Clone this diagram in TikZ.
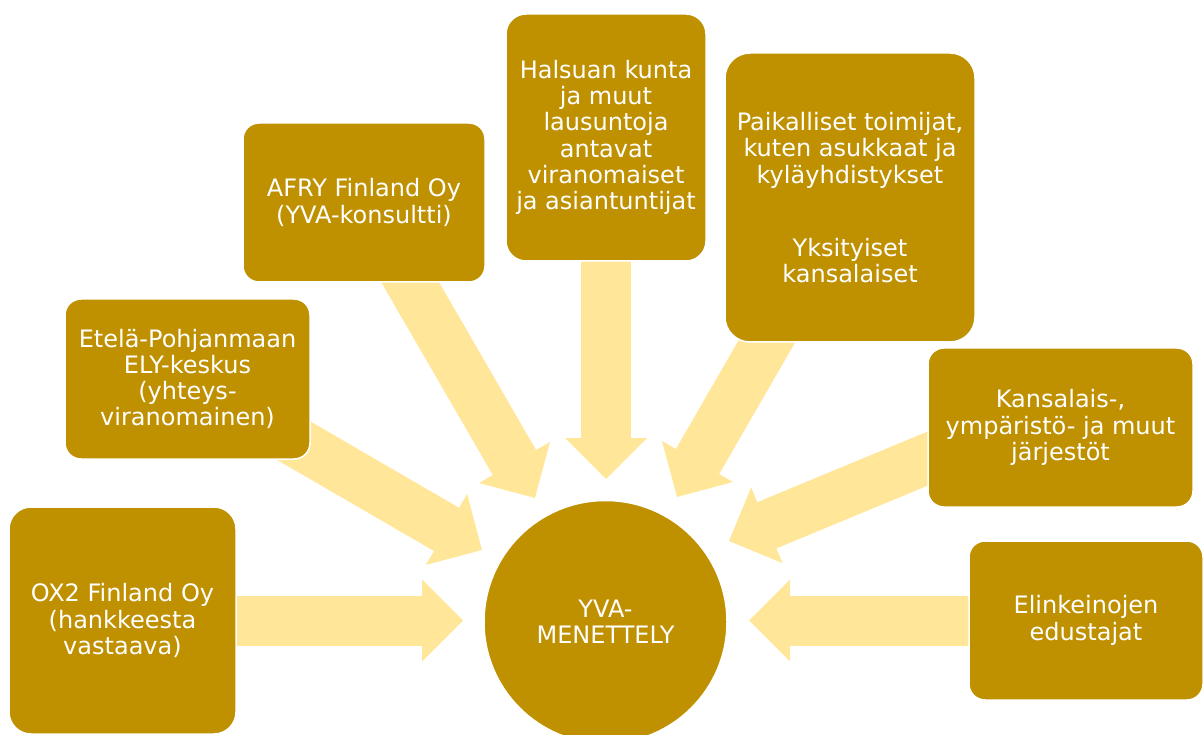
\documentclass[tikz,border=0pt]{standalone}
\usepackage{fontspec}
\setmainfont{DejaVu Sans}
\usepackage{xcolor}
\usetikzlibrary{arrows.meta, positioning, calc, backgrounds}
\definecolor{boxGold}{HTML}{BF9000}
\definecolor{flowLight}{HTML}{FFE699}

\begin{document}
\begin{tikzpicture}[x=1pt, y=-1pt,
  every node/.style={font=\fontsize{24}{26.3}\selectfont, text=white, align=center},
  sbox/.style={rectangle, fill=boxGold, draw=white, line width=1.5pt, inner sep=0pt},
  hub/.style={circle, fill=boxGold, draw=white, line width=1.5pt,
    minimum size=243pt, inner sep=0pt},
  flow/.style={draw=flowLight, line width=50pt,
    -{Triangle[length=41pt 0 0, width=82pt 0 0, line width=0pt]}}
]
\useasboundingbox (0,0) rectangle (1203,735);
\clip (0,0) rectangle (1203,735);

% boxes
\node[sbox, minimum width=227pt, minimum height=227pt, rounded corners=22pt] (ox2) at (122.5,620.5)
  {OX2 Finland Oy\\(hankkeesta\\vastaava)};
\node[sbox, minimum width=245pt, minimum height=160pt, rounded corners=16pt] (ely) at (187.5,379)
  {Etelä-Pohjanmaan\\ELY-keskus\\(yhteys-\\viranomainen)};
\node[sbox, minimum width=242pt, minimum height=159pt, rounded corners=16pt] (afry) at (364,202.5)
  {AFRY Finland Oy\\(YVA-konsultti)};
\node[sbox, minimum width=200pt, minimum height=247pt, rounded corners=20pt] (halsua) at (606,137.5)
  {Halsuan kunta\\ja muut\\lausuntoja\\antavat\\viranomaiset\\ja asiantuntijat};
\node[sbox, minimum width=250pt, minimum height=289pt, rounded corners=25pt] (paik) at (850,197.5)
  {Paikalliset toimijat,\\kuten asukkaat ja\\kyläyhdistykset\\[46.7pt]Yksityiset\\kansalaiset};
\node[sbox, minimum width=265pt, minimum height=159pt, rounded corners=16pt] (kans) at (1060.5,427.5)
  {Kansalais-,\\ympäristö- ja muut\\järjestöt};
\node[sbox, minimum width=234pt, minimum height=159pt, rounded corners=16pt] (elink) at (1086,620.5)
  {Elinkeinojen\\edustajat};

% centre
\node[hub] (yva) at (605.5,622) {YVA-\\MENETTELY};

% arrow tips
\coordinate (t1) at (463,620.5);
\coordinate (t2) at (482,550);
\coordinate (t3) at (535,498);
\coordinate (t4) at (606,479);
\coordinate (t5) at (677,497);
\coordinate (t6) at (729,541);
\coordinate (t7) at (749,620.5);

% arrows
\begin{scope}[on background layer]
  \draw[flow] (ox2.center) -- (t1);
  \draw[flow] (ely.center) -- (t2);
  \draw[flow] (afry.center) -- (t3);
  \draw[flow] (halsua.center) -- (t4);
  \draw[flow] (paik.center) -- (t5);
  \draw[flow] ([yshift=24pt]kans.center) -- (t6);
  \draw[flow] (elink.center) -- (t7);
\end{scope}
\end{tikzpicture}
\end{document}
